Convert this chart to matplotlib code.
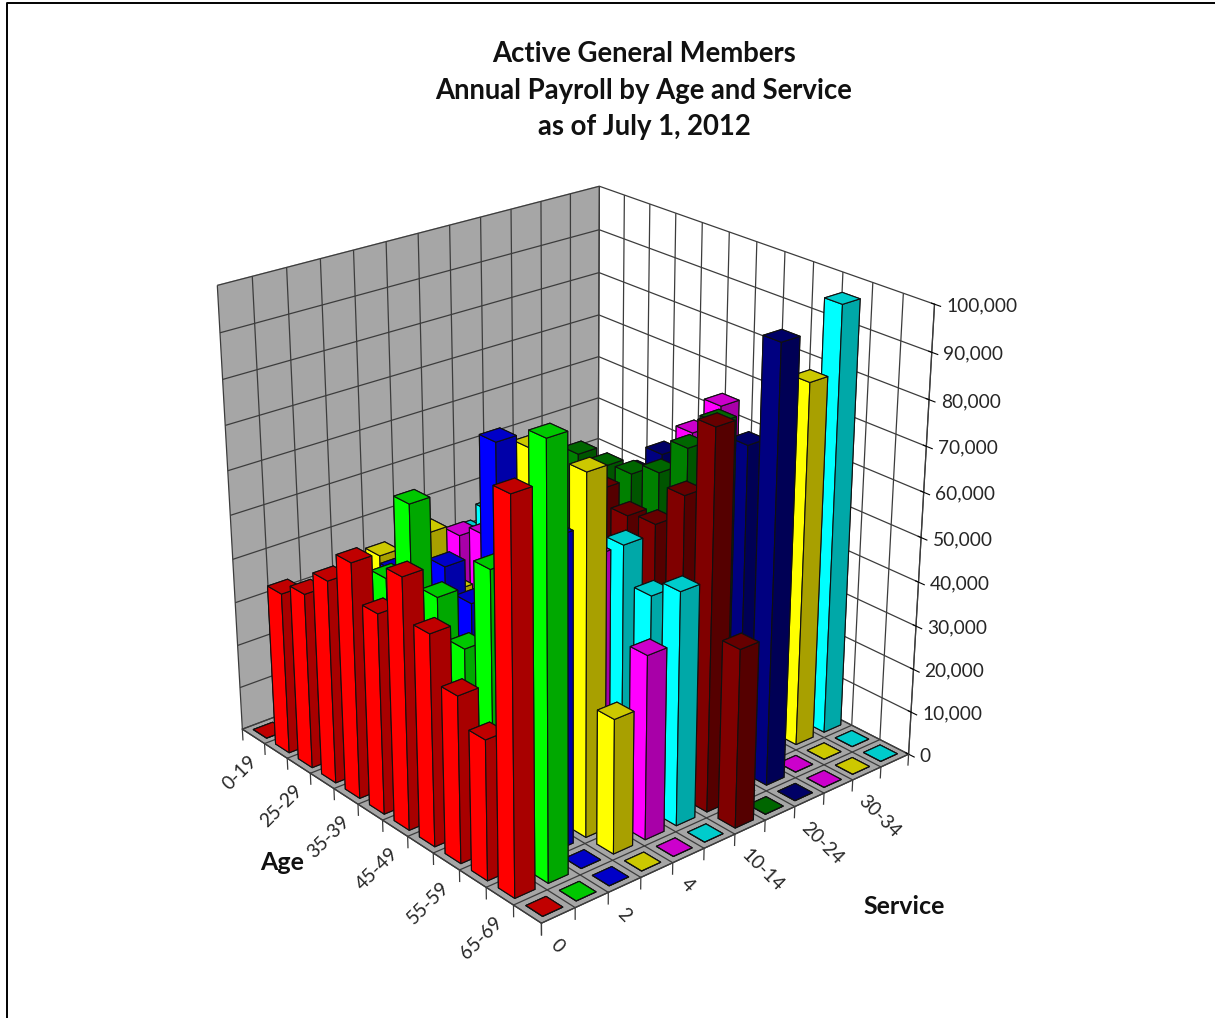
import matplotlib
matplotlib.use("Agg")
import matplotlib.pyplot as plt
import numpy as np
from matplotlib.lines import Line2D
from matplotlib.ticker import FuncFormatter, NullFormatter
from mpl_toolkits.mplot3d import proj3d

# Payroll in thousands, one list per service band, ordered by age band
age_bands = ["0-19", "20-24", "25-29", "30-34", "35-39", "40-44",
             "45-49", "50-54", "55-59", "60-64", "65-69", "70+"]
service_bands = ["0", "1", "2", "3", "4", "5-9",
                 "10-14", "15-19", "20-24", "25-29", "30-34", "35+"]

svc_0 = [0, 37, 40, 46, 53, 45, 56, 47, 37, 31, 84.5, 0]
svc_1 = [0, 30, 38, 40, 47, 66, 49, 41, 61, 50, 93, 0]
svc_2 = [0, 25, 30, 43, 35, 50, 45, 82, 60, 68, 0, 0]
svc_3 = [0, 38, 30, 49, 39, 35, 50, 78.5, 60, 79, 30, 0]
svc_4 = [0, 0, 10, 46, 49, 40, 40, 40, 56, 18, 41, 0]
svc_5 = [0, 0, 41, 49, 30, 35, 40, 40, 56, 48, 52, 0]
svc_6 = [0, 0, 0, 0, 20, 40, 60, 57, 58, 67, 84, 40]
svc_7 = [0, 0, 0, 0, 60, 60, 61, 64, 72, 80, 0, 0]
svc_8 = [0, 0, 0, 0, 0, 56, 63, 60, 62, 73, 97, 0]
svc_9 = [0, 0, 0, 0, 0, 0, 65.5, 74, 50, 0, 0, 0]
svc_10 = [0, 0, 0, 0, 0, 0, 0, 0, 60, 82, 0, 0]
svc_11 = [0, 0, 0, 0, 0, 0, 0, 0, 30, 96.5, 0, 0]
payroll = [svc_0, svc_1, svc_2, svc_3, svc_4, svc_5,
           svc_6, svc_7, svc_8, svc_9, svc_10, svc_11]

value_ticks = list(range(0, 100001, 10000))

# Face shades per service band: lit side, top, shaded side
svc_faces = [
    ("#FF0000", "#C00000", "#A80000"),
    ("#00FF00", "#00C800", "#00A800"),
    ("#0000FF", "#0000C8", "#0000A8"),
    ("#FFFF00", "#CCC800", "#A8A000"),
    ("#FF00FF", "#CC00CC", "#A800A8"),
    ("#00FFFF", "#00CCCC", "#00A8A8"),
    ("#800000", "#660000", "#550000"),
    ("#008000", "#006600", "#005500"),
    ("#000080", "#000066", "#000055"),
    ("#FF00FF", "#CC00CC", "#A800A8"),
    ("#FFFF00", "#CCC800", "#A8A000"),
    ("#00FFFF", "#00CCCC", "#00A8A8"),
]

plt.rcParams["font.family"] = ["Lato", "DejaVu Sans"]
plt.rcParams["grid.color"] = "#3c3c3c"
plt.rcParams["grid.linewidth"] = 0.9
plt.rcParams["axes.edgecolor"] = "#3c3c3c"
plt.rcParams["axes.linewidth"] = 0.9

fig = plt.figure(figsize=(12.15, 10.18), dpi=100)
ax = fig.add_axes([149.5 / 1215, 68.5 / 1018, 824 / 1215, 824 / 1018],
                  projection="3d", computed_zorder=False)
ax.patch.set_alpha(0)
ax.set_proj_type("persp", focal_length=0.62)
ax.view_init(elev=24.5, azim=-40.4)
ax.set_box_aspect((501, 504, 503))
ax.set_xlim(0, 12)
ax.set_ylim(0, 12)
ax.set_zlim(0, 100000)

ax.xaxis.set_pane_color("#A6A6A6")
ax.yaxis.set_pane_color("#FFFFFF")
ax.zaxis.set_pane_color("#A6A6A6")

ax.set_xticks(range(13))
ax.set_yticks(range(13))
ax.set_zticks(value_ticks)
ax.xaxis.set_major_formatter(NullFormatter())
ax.yaxis.set_major_formatter(NullFormatter())
ax.zaxis.set_major_formatter(FuncFormatter(lambda v, _: f"{int(v):,}"))
ax.zaxis.set_ticks_position("upper")
ax.tick_params(axis="x", color=(0, 0, 0, 0))
ax.tick_params(axis="y", color=(0, 0, 0, 0))
ax.tick_params(axis="z", labelsize=13.8, pad=-3, labelcolor="#262626")
for label in ax.zaxis.get_ticklabels():
    label.set_ha("left")
    label.set_va("center_baseline")

BAR_SIZE = 0.6
inset = (1 - BAR_SIZE) / 2
order = 10
# Painted back to front so nearer bars cover farther ones
for a in range(len(age_bands)):
    for s in range(len(service_bands) - 1, -1, -1):
        lit, top, shaded = svc_faces[s]
        # Face order in bar3d: -Z, +Z, -Y, +Y, -X, +X
        coll = ax.bar3d(a + inset, s + inset, 0, BAR_SIZE, BAR_SIZE,
                        payroll[s][a] * 1000,
                        color=[top, top, lit, lit, shaded, shaded],
                        edgecolor="#101010", linewidth=0.8, shade=False)
        coll.set_zorder(order)
        order += 1

# Short vertical ticks under the two front floor edges
tick_drop = -2600
for i in range(13):
    ax.plot([i, i], [0, 0], [0, tick_drop], color="#3c3c3c", lw=0.9, zorder=2000)
    ax.plot([12, 12], [i, i], [0, tick_drop], color="#3c3c3c", lw=0.9, zorder=2000)


def floor_label(x, y, z, name, angle, align):
    """Place a slanted label at a 3D anchor, using screen-space rotation."""
    px, py, _ = proj3d.proj_transform(x, y, z, ax.get_proj())
    ax.text2D(px, py, name, transform=ax.transData, rotation=angle,
              rotation_mode="anchor", ha=align, va="center",
              fontsize=13.8, color="#262626", zorder=2001)


for i, name in enumerate(age_bands):
    if i % 2 == 0:
        floor_label(i + 0.5, 0, -5300, name, 45, "right")
for i, name in enumerate(service_bands):
    if i % 2 == 0:
        floor_label(12, i + 0.35, -5400, name, -45, "left")

fig.text(282 / 1215, 1 - 863 / 1018, "Age", fontsize=18, fontweight="bold",
         ha="center", va="center", color="#111111")
fig.text(904 / 1215, 1 - 907 / 1018, "Service", fontsize=18, fontweight="bold",
         ha="center", va="center", color="#111111")
fig.text(644 / 1215, 1 - 90.5 / 1018,
         "Active General Members\nAnnual Payroll by Age and Service\nas of July 1, 2012",
         fontsize=19.8, fontweight="bold", ha="center", va="center",
         linespacing=1.5, color="#111111")

# Frame along the top and left of the sheet
fig.add_artist(Line2D([6.5 / 1215, 6.5 / 1215, 1], [0, 1 - 2.5 / 1018, 1 - 2.5 / 1018],
                      color="black", lw=1.4, transform=fig.transFigure))

fig.savefig("out.png", dpi=100)
